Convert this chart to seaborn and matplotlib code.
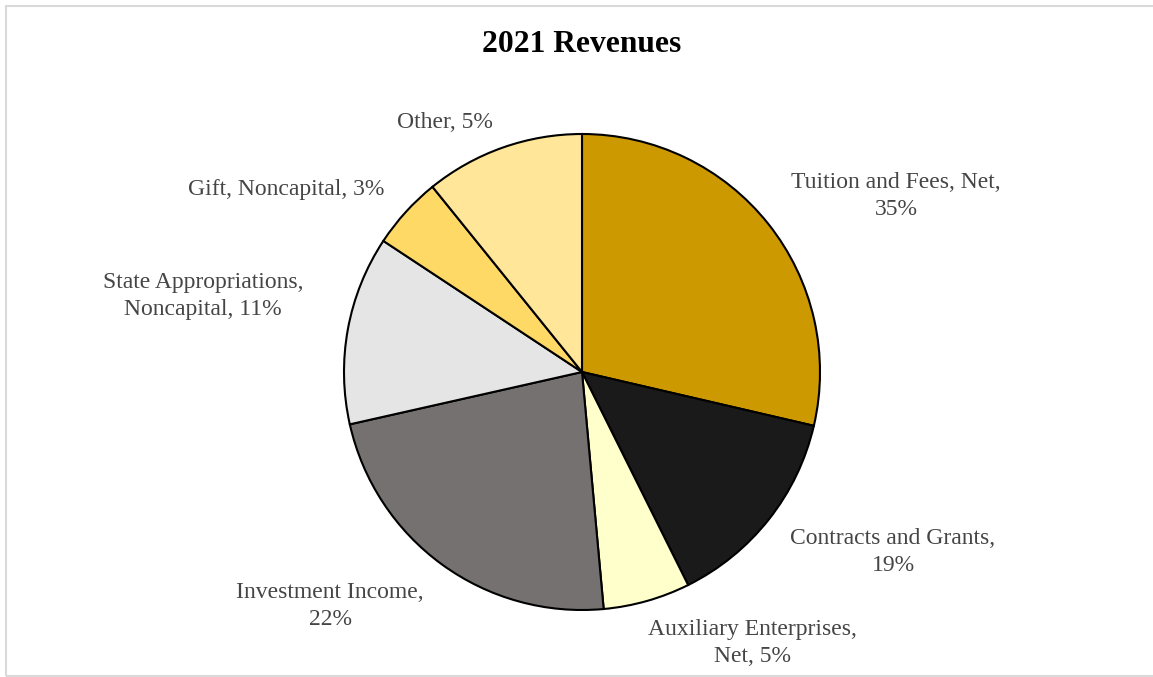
import matplotlib
matplotlib.use("Agg")
import matplotlib.pyplot as plt
import seaborn as sns
from matplotlib.patches import Rectangle

sns.set_theme(style="white")
plt.rcParams['font.family'] = ['Liberation Serif', 'DejaVu Serif']

# Data
categories = ["Tuition and Fees, Net", "Contracts and Grants", "Auxiliary Enterprises, Net",
              "Investment Income", "State Appropriations, Noncapital", "Gift, Noncapital", "Other"]
values = [28.6, 14.0, 5.9, 22.9, 12.8, 4.9, 10.8]
label_texts = ["Tuition and Fees, Net,\n35%", "Contracts and Grants,\n19%",
               "Auxiliary Enterprises,\nNet, 5%", "Investment Income,\n22%",
               "State Appropriations,\nNoncapital, 11%", "Gift, Noncapital, 3%", "Other, 5%"]
colors = ["#CC9900", "#1A1A1A", "#FFFFCC", "#767171", "#E5E5E5", "#FFD966", "#FFE699"]

W, H = 1153, 677
fig = plt.figure(figsize=(W / 100, H / 100), dpi=100)

cx, cy, r = 582, 372, 238
ax = fig.add_axes([(cx - r) / W, (H - cy - r) / H, 2 * r / W, 2 * r / H])
ax.pie(values, colors=colors, startangle=90, counterclock=False,
       wedgeprops=dict(edgecolor="black", linewidth=1.5), radius=1.0)
ax.set_xlim(-1, 1)
ax.set_ylim(-1, 1)
ax.set_aspect("equal")
ax.axis("off")

# label placements (pixel centers)
label_pos = [(896, 196), (893, 552), (752, 643), (330, 606), (203, 296), (286, 190), (445, 123)]
for txt, (px, py) in zip(label_texts, label_pos):
    fig.text(px / W, 1 - py / H, txt, ha="center", va="center", fontsize=17,
             color="#454545", linespacing=1.4)

fig.text(582 / W, 1 - 45 / H, "2021 Revenues", ha="center", va="center",
         fontsize=22.7, fontweight="bold", color="black")

# outer frame (right side runs off the image)
fig.patches.append(Rectangle((5.5 / W, 1.0 / H), (1170 - 5.5) / W, (671.5 - 1.0) / H,
                             transform=fig.transFigure, fill=False,
                             edgecolor="#D9D9D9", linewidth=1.5))

fig.savefig("out.png", dpi=100)
